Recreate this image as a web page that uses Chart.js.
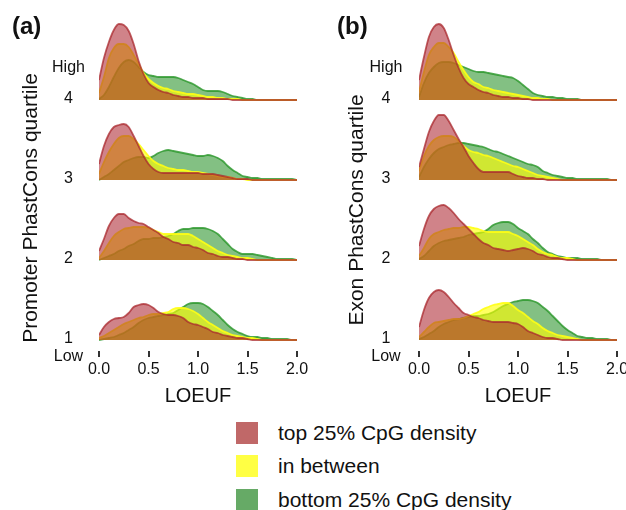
<!DOCTYPE html>
<html>
<head>
<meta charset="utf-8">
<script src="https://cdn.jsdelivr.net/npm/chart.js@4.4.1/dist/chart.umd.min.js"></script>
<style>
  body{margin:0;width:626px;height:510px;overflow:hidden;background:#fff;position:relative;
       font-family:"Liberation Sans",Arial,sans-serif;color:#111}
  canvas{position:absolute;top:0}
  #panelA{left:0}
  #panelB{left:320px}
  .tag{position:absolute;font-weight:bold;font-size:24px;line-height:24px}
  .key{position:absolute;left:236px;height:22px;display:flex;align-items:center;font-size:21px;white-space:nowrap}
  .key span{display:inline-block;width:22px;height:22px;margin-right:20px}
</style>
</head>
<body>
<canvas id="panelA" width="320" height="420"></canvas>
<canvas id="panelB" width="320" height="420"></canvas>
<div class="tag" style="left:12px;top:14px">(a)</div>
<div class="tag" style="left:337px;top:14px">(b)</div>
<div id="legend"></div>

<script>
// LOEUF grid the densities were read at
const loeuf = [0,0.05,0.1,0.15,0.2,0.25,0.3,0.35,0.4,0.45,0.5,0.55,0.6,0.65,0.7,0.75,0.8,0.85,0.9,0.95,
               1,1.05,1.1,1.15,1.2,1.25,1.3,1.35,1.4,1.45,1.5,1.55,1.6,1.65,1.7,1.75,1.8,1.85,1.9,1.95,2];
const xTicks = [0, 0.5, 1, 1.5, 2];
const quartiles = ['1', '2', '3', '4'];
const groups = ['top 25% CpG density', 'in between', 'bottom 25% CpG density'];

// densities (scaled), one row per quartile 1..4
const promoterTop = [
  [5,13,18,21,22,23,27,33,35,36,35,32,28,26,25,25,24,22,18,16,15,13,11,8,7,5,4,3,2,2,1,0,0,0,0,0,0,0,0,0,0],
  [9,21,34,42,46,46,42,39,37,36,33,30,27,23,21,18,17,15,15,13,12,10,7,6,4,3,3,2,1,1,0,0,0,0,0,0,0,0,0,0,0],
  [16,34,46,53,55,56,53,44,34,24,16,11,8,7,7,7,7,7,7,7,7,6,6,6,5,4,3,2,1,1,1,0,0,0,0,0,0,0,0,0,0],
  [20,42,58,70,76,75,69,56,39,26,17,13,10,8,7,5,4,3,3,2,2,2,1,1,1,1,1,0,0,0,0,0,0,0,0,0,0,0,0,0,0]
];
const promoterMid = [
  [2,4,7,10,13,16,18,20,22,23,25,26,26,27,28,31,32,32,31,29,26,22,18,15,12,9,7,5,4,3,2,2,1,0,0,0,0,0,0,0,0],
  [2,9,17,24,28,31,32,33,33,33,32,30,28,26,26,26,26,26,26,24,21,18,15,12,9,7,5,4,3,2,2,1,0,0,0,0,0,0,0,0,0],
  [6,18,28,36,42,44,44,41,36,30,24,19,16,14,12,11,10,10,9,8,8,7,6,5,4,3,3,2,1,1,0,0,0,0,0,0,0,0,0,0,0],
  [7,23,42,52,56,56,53,45,36,27,21,17,14,12,11,9,8,7,6,6,5,4,3,3,2,2,1,1,1,0,0,0,0,0,0,0,0,0,0,0,0]
];
const promoterBottom = [
  [0,1,2,3,5,7,10,13,17,20,22,23,24,25,26,27,30,33,36,37,37,36,33,29,25,20,15,11,8,6,4,3,3,2,2,1,1,1,1,0,0],
  [0,2,4,6,9,11,14,16,19,21,21,22,22,23,24,26,29,31,31,32,32,32,31,29,26,21,16,11,8,6,6,6,5,4,3,2,1,1,1,1,0],
  [0,3,6,10,14,18,20,22,23,23,22,24,27,29,30,29,28,27,26,25,24,24,25,24,22,19,14,10,7,4,3,2,2,1,1,1,1,1,1,1,0],
  [1,5,13,23,32,38,40,38,33,28,25,24,23,23,23,23,22,20,18,16,13,10,9,9,9,8,6,4,3,2,1,1,0,0,0,0,0,0,0,0,0]
];
const exonTop = [
  [13,30,42,48,50,48,43,37,32,27,25,23,22,20,19,18,18,18,18,17,16,13,9,7,5,3,2,2,1,0,0,0,0,0,0,0,0,0,0,0,0],
  [14,31,44,51,54,55,52,47,41,36,31,26,21,17,15,12,11,10,9,10,11,12,11,9,6,5,3,2,2,1,0,0,0,0,0,0,0,0,0,0,0],
  [13,31,48,59,65,65,59,50,41,33,24,17,11,8,8,8,8,8,8,6,4,3,2,2,1,1,0,0,0,0,0,0,0,0,0,0,0,0,0,0,0],
  [20,43,63,73,76,72,60,45,32,22,16,13,10,8,7,5,4,3,3,2,2,1,1,0,0,0,0,0,0,0,0,0,0,0,0,0,0,0,0,0,0]
];
const exonMid = [
  [3,8,13,17,18,19,20,21,21,22,24,26,28,31,33,35,36,37,37,34,30,27,23,19,16,12,9,7,5,4,3,2,1,0,0,0,0,0,0,0,0],
  [4,12,21,26,28,30,31,32,32,33,33,32,31,29,28,28,28,28,28,26,24,21,18,15,11,8,6,5,3,2,2,1,0,0,0,0,0,0,0,0,0],
  [9,24,34,40,43,44,44,43,39,34,30,28,27,25,24,22,20,18,16,14,13,11,9,7,5,4,3,2,1,0,0,0,0,0,0,0,0,0,0,0,0],
  [8,28,45,53,57,57,53,47,38,30,23,18,16,13,12,10,9,8,7,6,5,4,3,2,2,1,1,0,0,0,0,0,0,0,0,0,0,0,0,0,0]
];
const exonBottom = [
  [1,3,6,9,13,16,18,20,21,22,23,24,24,25,26,28,31,34,36,38,39,40,40,39,37,33,29,24,19,14,10,7,4,3,2,2,1,1,1,0,0],
  [1,4,9,14,17,19,20,21,22,23,25,26,27,28,31,35,37,38,38,36,32,29,26,21,17,12,8,6,4,3,2,2,2,1,1,1,1,0,0,0,0],
  [3,13,21,27,31,33,35,36,37,37,36,35,34,33,31,29,28,26,24,22,20,18,16,15,13,9,7,5,4,3,2,2,1,1,1,1,1,1,1,0,0],
  [3,17,27,33,37,38,38,37,35,33,31,29,28,28,27,26,25,24,23,22,19,15,11,7,5,4,3,3,2,2,1,1,1,0,0,0,0,0,0,0,0]
];

const RIDGE_STEP = 80;
const styles = [
  { fill: 'rgba(170,30,40,0.55)', line: 'rgba(170,40,45,0.75)', key: '#c06868' },
  { fill: 'rgba(255,255,0,0.62)', line: 'rgba(255,255,20,0.9)', key: '#ffff44' },
  { fill: 'rgba(30,140,30,0.55)', line: 'rgba(40,150,40,0.8)', key: '#66aa66' }
];

Chart.defaults.font.family = '"Liberation Sans", Arial, sans-serif';
Chart.defaults.color = '#111';

// y title and centred quartile labels, placed with the y scale
const sideText = {
  id: 'sideText',
  afterDraw(chart, args, opts) {
    const ctx = chart.ctx;
    const y = chart.scales.y;
    ctx.save();
    ctx.fillStyle = '#111';
    ctx.font = '16px "Liberation Sans", Arial, sans-serif';
    ctx.textAlign = 'center';
    ctx.textBaseline = 'middle';
    opts.values.forEach((v, i) => {
      ctx.fillText(opts.labels[i], opts.labelX, y.getPixelForValue(v) - 1);
    });
    ctx.translate(opts.titleX, opts.titleY);
    ctx.rotate(-Math.PI / 2);
    ctx.font = '21px "Liberation Sans", Arial, sans-serif';
    ctx.textBaseline = 'alphabetic';
    ctx.fillText(opts.title, 0, 0);
    ctx.restore();
  }
};

function ridgeSets(top, mid, bottom) {
  const sets = [];
  quartiles.forEach((q, k) => {
    const base = k * RIDGE_STEP;
    [top, mid, bottom].forEach((src, g) => {
      sets.push({
        label: groups[g] + ' ' + q,
        data: loeuf.map((x, i) => ({ x, y: base + src[k][i] })),
        fill: { value: base },
        backgroundColor: styles[g].fill,
        borderColor: styles[g].line,
        borderWidth: 1.8,
        pointRadius: 0,
        tension: 0.4,
        cubicInterpolationMode: 'monotone'
      });
    });
  });
  return sets;
}

function makePanel(id, top, mid, bottom, title, titlePos, labelX) {
  const yTickValues = [-18].concat(quartiles.map((q, k) => k * RIDGE_STEP), [3 * RIDGE_STEP + 31]);
  const yTickLabels = ['Low'].concat(quartiles, ['High']);
  new Chart(document.getElementById(id), {
    type: 'line',
    data: { datasets: ridgeSets(top, mid, bottom) },
    plugins: [sideText],
    options: {
      responsive: false,
      animation: false,
      events: [],
      layout: { padding: { top: 20, left: 0, right: 23, bottom: 0 } },
      plugins: {
        legend: { display: false },
        tooltip: { enabled: false },
        sideText: {
          title, titleX: titlePos[0], titleY: titlePos[1],
          values: yTickValues, labels: yTickLabels, labelX
        }
      },
      scales: {
        x: {
          type: 'linear', min: 0, max: 2,
          afterFit: s => { s.height = 69; },
          afterBuildTicks: s => { s.ticks = xTicks.map(v => ({ value: v })); },
          ticks: { callback: v => v.toFixed(1), padding: 3, font: { size: 16 }, maxRotation: 0, autoSkip: false },
          grid: { drawOnChartArea: false, drawTicks: true, tickLength: 6, color: '#333', lineWidth: 2 },
          border: { display: false },
          title: { display: true, text: 'LOEUF', font: { size: 20 }, padding: { top: 0, bottom: 12 } }
        },
        y: {
          type: 'linear', min: -11, max: 320,
          afterFit: s => { s.width = 99; },
          ticks: { display: false },
          grid: { display: false, drawTicks: false },
          border: { display: false }
        }
      }
    }
  });
}

makePanel('panelA', promoterTop, promoterMid, promoterBottom, 'Promoter PhastCons quartile', [37, 208], 68.5);
makePanel('panelB', exonTop, exonMid, exonBottom, 'Exon PhastCons quartile', [43, 210], 66);

// legend
const legend = document.getElementById('legend');
const keyTops = [422, 455, 489];
groups.forEach((g, i) => {
  const row = document.createElement('div');
  row.className = 'key';
  row.style.top = keyTops[i] + 'px';
  row.innerHTML = `<span style="background:${styles[i].key}"></span>${g}`;
  legend.appendChild(row);
});
</script>
</body>
</html>
